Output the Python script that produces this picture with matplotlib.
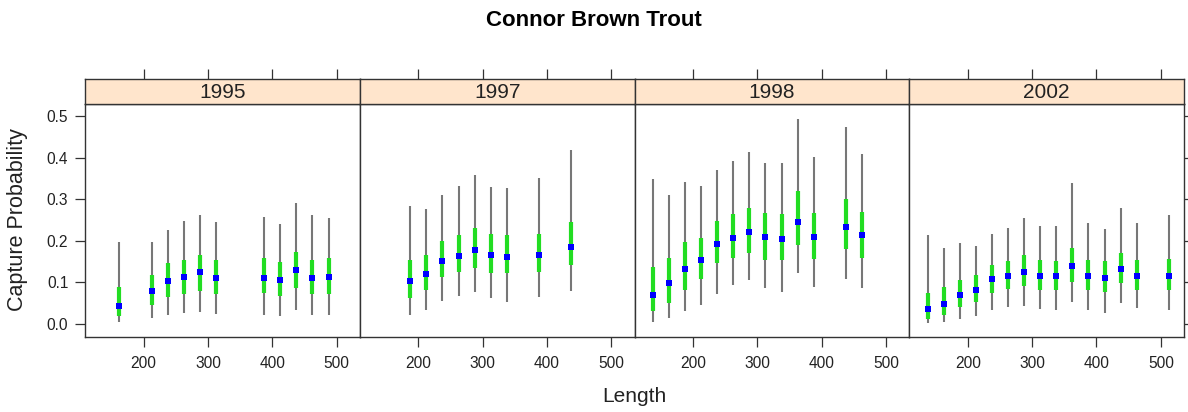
import matplotlib.pyplot as plt
import numpy as np

plt.rcParams['font.family'] = ['Liberation Sans', 'DejaVu Sans']

years = ["1995", "1997", "1998", "2002"]

# length bin midpoints per year
len_1995 = [162.5, 212.5, 237.5, 262.5, 287.5, 312.5, 387.5, 412.5, 437.5, 462.5, 487.5]
len_1997 = [187.5, 212.5, 237.5, 262.5, 287.5, 312.5, 337.5, 387.5, 437.5]
len_1998 = [137.5, 162.5, 187.5, 212.5, 237.5, 262.5, 287.5, 312.5, 337.5, 362.5, 387.5, 437.5, 462.5]
len_2002 = [137.5, 162.5, 187.5, 212.5, 237.5, 262.5, 287.5, 312.5, 337.5, 362.5, 387.5, 412.5, 437.5, 462.5, 512.5]

# point estimates
est_1995 = [0.043, 0.079, 0.104, 0.114, 0.125, 0.112, 0.112, 0.107, 0.131, 0.112, 0.114]
est_1997 = [0.104, 0.121, 0.152, 0.164, 0.178, 0.166, 0.162, 0.166, 0.186]
est_1998 = [0.070, 0.099, 0.133, 0.153, 0.192, 0.208, 0.222, 0.210, 0.204, 0.246, 0.210, 0.234, 0.213]
est_2002 = [0.036, 0.049, 0.070, 0.082, 0.108, 0.115, 0.125, 0.115, 0.115, 0.140, 0.115, 0.112, 0.132, 0.115, 0.115]

# inner (green) interval
lo50_1995 = [0.019, 0.046, 0.064, 0.072, 0.080, 0.072, 0.074, 0.067, 0.086, 0.072, 0.072]
hi50_1995 = [0.090, 0.118, 0.146, 0.155, 0.165, 0.155, 0.158, 0.150, 0.174, 0.155, 0.158]
lo50_1997 = [0.063, 0.082, 0.114, 0.125, 0.134, 0.123, 0.122, 0.126, 0.142]
hi50_1997 = [0.155, 0.165, 0.200, 0.215, 0.232, 0.216, 0.214, 0.216, 0.246]
lo50_1998 = [0.032, 0.050, 0.083, 0.108, 0.146, 0.160, 0.172, 0.155, 0.155, 0.190, 0.156, 0.180, 0.159]
hi50_1998 = [0.138, 0.160, 0.197, 0.206, 0.247, 0.264, 0.280, 0.266, 0.264, 0.320, 0.268, 0.301, 0.269]
lo50_2002 = [0.012, 0.022, 0.040, 0.053, 0.074, 0.085, 0.091, 0.082, 0.082, 0.102, 0.082, 0.076, 0.098, 0.082, 0.082]
hi50_2002 = [0.075, 0.088, 0.107, 0.118, 0.143, 0.152, 0.165, 0.155, 0.152, 0.184, 0.155, 0.151, 0.172, 0.155, 0.156]

# outer (gray) interval
lo95_1995 = [0.005, 0.015, 0.022, 0.026, 0.030, 0.024, 0.022, 0.019, 0.034, 0.023, 0.022]
hi95_1995 = [0.198, 0.198, 0.226, 0.248, 0.262, 0.246, 0.258, 0.240, 0.290, 0.262, 0.256]
lo95_1997 = [0.022, 0.035, 0.056, 0.067, 0.077, 0.062, 0.054, 0.064, 0.080]
hi95_1997 = [0.284, 0.276, 0.310, 0.331, 0.359, 0.329, 0.328, 0.352, 0.419]
lo95_1998 = [0.006, 0.014, 0.032, 0.047, 0.072, 0.093, 0.106, 0.086, 0.078, 0.123, 0.090, 0.108, 0.086]
hi95_1998 = [0.348, 0.310, 0.342, 0.331, 0.371, 0.391, 0.413, 0.387, 0.388, 0.492, 0.402, 0.474, 0.410]
lo95_2002 = [0.002, 0.006, 0.013, 0.019, 0.034, 0.040, 0.044, 0.037, 0.034, 0.052, 0.035, 0.027, 0.050, 0.038, 0.034]
hi95_2002 = [0.214, 0.184, 0.196, 0.188, 0.216, 0.232, 0.256, 0.236, 0.235, 0.340, 0.244, 0.228, 0.279, 0.244, 0.263]

panels = [
    (len_1995, est_1995, lo50_1995, hi50_1995, lo95_1995, hi95_1995),
    (len_1997, est_1997, lo50_1997, hi50_1997, lo95_1997, hi95_1997),
    (len_1998, est_1998, lo50_1998, hi50_1998, lo95_1998, hi95_1998),
    (len_2002, est_2002, lo50_2002, hi50_2002, lo95_2002, hi95_2002),
]

W, H = 1188, 412
fig = plt.figure(figsize=(W / 100, H / 100), dpi=100)

left_px, right_px = 85, 1184
top_px, bot_px = 104, 337
strip_h = 25
pw = (right_px - left_px) / 4
frame_col = "#333333"

for i, (year, (xs, est, lo50, hi50, lo95, hi95)) in enumerate(zip(years, panels)):
    x0 = left_px + i * pw
    ax = fig.add_axes([x0 / W, 1 - bot_px / H, pw / W, (bot_px - top_px) / H])
    xs = np.array(xs)
    ax.vlines(xs, lo95, hi95, color="#777777", lw=1.5, zorder=2)
    ax.vlines(xs, lo50, hi50, color="#22dd22", lw=3.0, zorder=3)
    ax.plot(xs, est, "s", color="#0000ff", ms=3.8, mew=0, zorder=4)
    ax.set_xlim(109, 536)
    ax.set_ylim(-0.031, 0.529)
    ax.set_xticks([200, 300, 400, 500])
    ax.set_yticks([0.0, 0.1, 0.2, 0.3, 0.4, 0.5])
    ax.set_yticklabels(["%.1f" % v for v in ax.get_yticks()])
    ax.tick_params(axis="both", direction="out", length=7, width=0.9,
                   color=frame_col, labelsize=11.2, labelcolor="#222222")
    ax.tick_params(axis="x", pad=7)
    ax.tick_params(axis="y", pad=5, left=(i == 0), labelleft=(i == 0),
                   right=(i == 3), labelright=False)
    for sp in ax.spines.values():
        sp.set_color(frame_col)
        sp.set_linewidth(1.0)

    # strip with top ticks
    sax = fig.add_axes([x0 / W, 1 - top_px / H, pw / W, strip_h / H])
    sax.set_facecolor("#ffe5cc")
    sax.set_xlim(109, 536)
    sax.set_xticks([200, 300, 400, 500])
    sax.set_yticks([])
    sax.tick_params(axis="x", bottom=False, labelbottom=False, top=True,
                    labeltop=False, direction="out", length=7, width=0.9, color=frame_col)
    for sp in sax.spines.values():
        sp.set_color(frame_col)
        sp.set_linewidth(1.0)
    sax.text(0.5, 0.47, year, transform=sax.transAxes, ha="center", va="center",
             fontsize=15, color="#222222")

fig.text(0.5, 1 - 20 / H, "Connor Brown Trout", ha="center", va="center",
         fontsize=16, fontweight="bold")
fig.text((left_px + right_px) / 2 / W, 1 - 397 / H, "Length", ha="center", va="center",
         fontsize=15, color="#222222")
fig.text(18 / W, 1 - 220 / H, "Capture Probability", ha="center", va="center",
         rotation=90, fontsize=15.5, color="#222222")

fig.savefig("out.png", dpi=100)
